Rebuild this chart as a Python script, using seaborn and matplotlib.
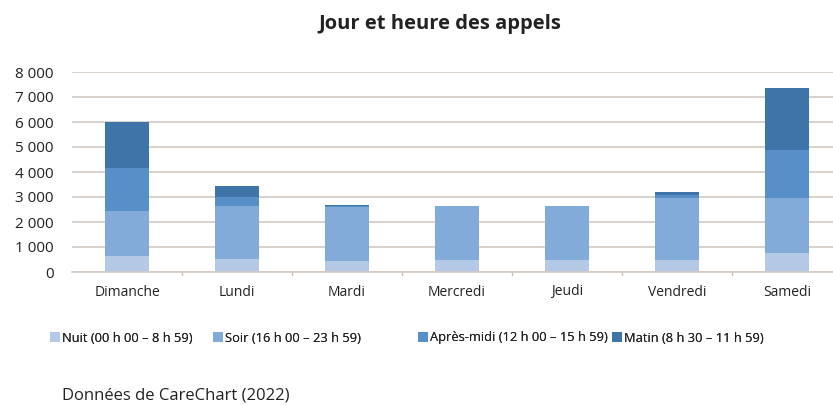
import matplotlib
matplotlib.use("Agg")
import matplotlib.pyplot as plt
import seaborn as sns
import numpy as np
import pandas as pd
from matplotlib.patches import Patch
from matplotlib.ticker import FuncFormatter

jours = ["Dimanche", "Lundi", "Mardi", "Mercredi", "Jeudi", "Vendredi", "Samedi"]
nuit = [650, 520, 430, 500, 500, 480, 750]
soir = [1800, 2130, 2180, 2150, 2130, 2500, 2200]
apres_midi = [1700, 360, 40, 0, 0, 90, 1950]
matin = [1850, 440, 50, 0, 0, 120, 2450]

series_labels = ["Nuit (00 h 00 – 8 h 59)", "Soir (16 h 00 – 23 h 59)",
                 "Après-midi (12 h 00 – 15 h 59)", "Matin (8 h 30 – 11 h 59)"]
colors = ["#b3c9e6", "#83abd9", "#5790c9", "#3f74a9"]
title = "Jour et heure des appels"
source = "Données de CareChart (2022)"
yticks = [0, 1000, 2000, 3000, 4000, 5000, 6000, 7000, 8000]

sns.set_theme(style="white")
plt.rcParams["font.family"] = ["Open Sans", "DejaVu Sans"]

fig = plt.figure(figsize=(8.33, 4.05), dpi=100)
W, H = 833, 405
left_px, right_px, top_px, bot_px = 72, 842, 72, 272
ax = fig.add_axes([left_px / W, 1 - bot_px / H, (right_px - left_px) / W, (bot_px - top_px) / H])

stack = np.array([nuit, soir, apres_midi, matin])
cum = np.cumsum(stack, axis=0)
# draw from top of stack down so lower segments overlay
for i in range(3, -1, -1):
    df = pd.DataFrame({"jour": jours, "val": cum[i]})
    sns.barplot(data=df, x="jour", y="val", color=colors[i], saturation=1,
                width=0.4, ax=ax, order=jours, linewidth=0)

ax.set_xlim(-0.5, 6.5)
ax.set_ylim(0, 8000)
ax.set_yticks(yticks)
ax.yaxis.set_major_formatter(FuncFormatter(lambda v, p: f"{int(v):,}".replace(",", " ")))
ax.grid(axis="y", color="#d3cac3", linewidth=1.2)
ax.set_axisbelow(True)
for s in ["top", "right", "left"]:
    ax.spines[s].set_visible(False)
ax.spines["bottom"].set_color("#d3cac3")
ax.spines["bottom"].set_linewidth(1.2)
ax.set_xlabel("")
ax.set_ylabel("")
ax.tick_params(axis="y", length=0, labelsize=11, pad=13, labelcolor="#222222")
ax.tick_params(axis="x", length=0, labelsize=10, pad=9, labelcolor="#222222")
# category boundary tick marks
for b in np.arange(0.5, 6.5, 1):
    ax.plot([b, b], [0, -120], color="#c8c0ba", lw=1, clip_on=False)

fig.text(440 / W, 1 - 24 / H, title, ha="center", va="center",
         fontsize=14.5, fontweight="bold", color="#222222")

legend_x_px = [50, 213, 418, 612]
for c, lab, xp in zip(colors, series_labels, legend_x_px):
    leg = fig.legend([Patch(facecolor=c, edgecolor="none")], [lab], loc="center left",
                     bbox_to_anchor=(xp / W, 1 - 338 / H), frameon=False, fontsize=9.3,
                     handlelength=0.75, handleheight=0.9, handletextpad=0.15,
                     borderpad=0, borderaxespad=0, labelcolor="#222222")
    fig.add_artist(leg)

fig.text(62 / W, 1 - 395 / H, source, ha="left", va="center", fontsize=12, color="#222222")

fig.savefig("out.png", dpi=100)
